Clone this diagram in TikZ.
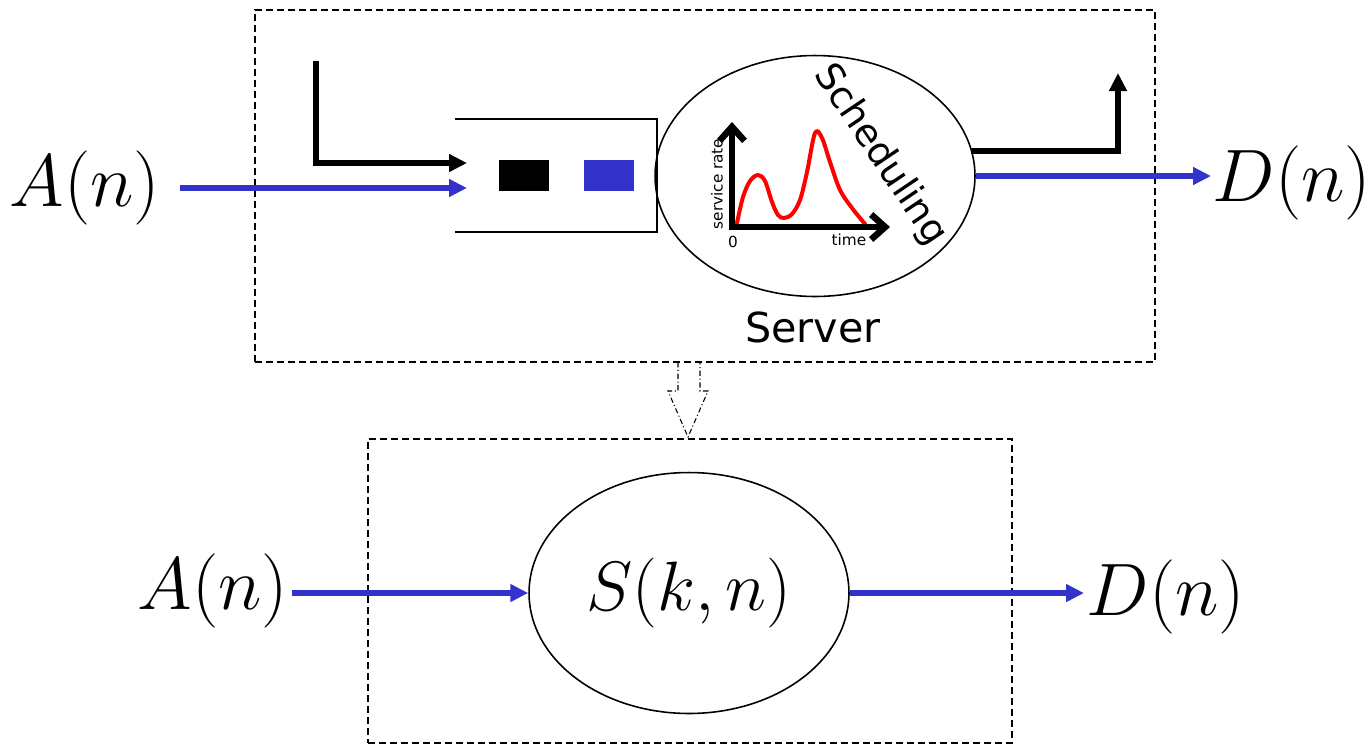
\RequirePackage{fix-cm}
\documentclass[tikz,border=0pt]{standalone}
\usepackage{fontspec}
\newfontfamily\dejavu{DejaVu Sans}
\usetikzlibrary{arrows.meta,shapes.geometric}
\definecolor{qblue}{RGB}{51,51,204}
\tikzset{
 big/.style={font=\fontsize{42.3}{44}\selectfont, inner sep=2pt, anchor=base},
 barrow/.style={qblue, line width=0.12cm, -{Triangle[length=0.36cm,width=0.34cm]}},
 karrow/.style={black, line width=0.12cm, -{Triangle[length=0.36cm,width=0.34cm]}},
 ell/.style={ellipse, draw, line width=0.9pt, minimum width=6.4cm, minimum height=4.82cm, inner sep=0pt},
 dbox/.style={draw, line width=0.75pt, dash pattern=on 0.14cm off 0.08cm},
 pkt/.style={minimum width=1cm, minimum height=0.62cm, inner sep=0pt},
 axis/.style={line width=0.13cm, {Straight Barb[length=0.28cm,width=0.5cm]}-{Straight Barb[length=0.28cm,width=0.5cm]}},
 small/.style={font=\dejavu\fontsize{8.7}{9}\selectfont, inner sep=0pt},
 sans/.style={font=\dejavu\fontsize{23.5}{25}\selectfont},
 hollow/.style={line width=0.6pt, dash pattern=on 3pt off 1.5pt on 0.6pt off 1.5pt},
}
\begin{document}
\begin{tikzpicture}[x=0.02cm,y=-0.02cm]
\useasboundingbox (0,0) rectangle (1372,745);
% dashed boxes
\node[dbox, minimum width=18cm, minimum height=7.04cm, inner sep=0pt] (topbox) at (705,186) {};
\node[dbox, minimum width=12.88cm, minimum height=6.08cm, inner sep=0pt] (botbox) at (690,591) {};
% hollow arrow between boxes
\draw[hollow] (678,362) -- (678,391) -- (668,391) -- (688,437) -- (708,391) -- (700,391) -- (700,362);
% top part
\node[big] (atop) at (85,206) {$A(n)$};
\node[big] (dtop) at (1292,201) {$D(n)$};
\draw[line width=0.85pt] (455,119) -- (657,119) -- (657,232) -- (455,232);
\node[pkt, fill=black] (p1) at (524,175.5) {};
\node[pkt, fill=qblue] (p2) at (609,175.5) {};
\node[ell] (srv) at (815,176) {};
\coordinate (qin) at (467,188);
\coordinate (kin0) at (316,61);
\coordinate (kin) at (467,163);
\coordinate (kout0) at (971,151);
\coordinate (kout) at (1118,73);
\coordinate (dtopin) at (1211,176);
\draw[barrow] (180,188) coordinate (aout) -- (qin);
\draw[karrow] (kin0) |- (kin);
\draw[karrow] (kout0) -| (kout);
\draw[barrow] (srv.east) -- (dtopin);
% graph inside the server
\draw[red, line width=0.08cm, line cap=round, line join=round] plot[smooth, tension=0.55] coordinates {(737,223) (743,197) (750,181) (758,175) (765,181) (772,202) (778,215) (784,218) (792,214) (800,200) (807,172) (815,133) (822,138) (830,162) (840,190) (852,208) (865,224)};
\draw[axis] (732,122) -- (732,227) -- (890,227);
\node[small, rotate=90] (srate) at (717,184) {service rate};
\node[small] (zero) at (733,242) {0};
\node[small] (time) at (849,240) {time};
\node[sans, font=\dejavu\fontsize{21.5}{23}\selectfont, rotate=-56] (sched) at (880,155) {Scheduling};
\node[sans] (srvlbl) at (813,327) {Server};
% bottom part
\node[big] (abot) at (213,609) {$A(n)$};
\node[big] (dbot) at (1166,615) {$D(n)$};
\node[ell, font=\fontsize{39.8}{41}\selectfont] (sk) at (689,593) {$S(k,n)$};
\coordinate (abotout) at (292,593);
\coordinate (dbotin) at (1084,593);
\draw[barrow] (abotout) -- (sk.west);
\draw[barrow] (sk.east) -- (dbotin);
\end{tikzpicture}
\end{document}
